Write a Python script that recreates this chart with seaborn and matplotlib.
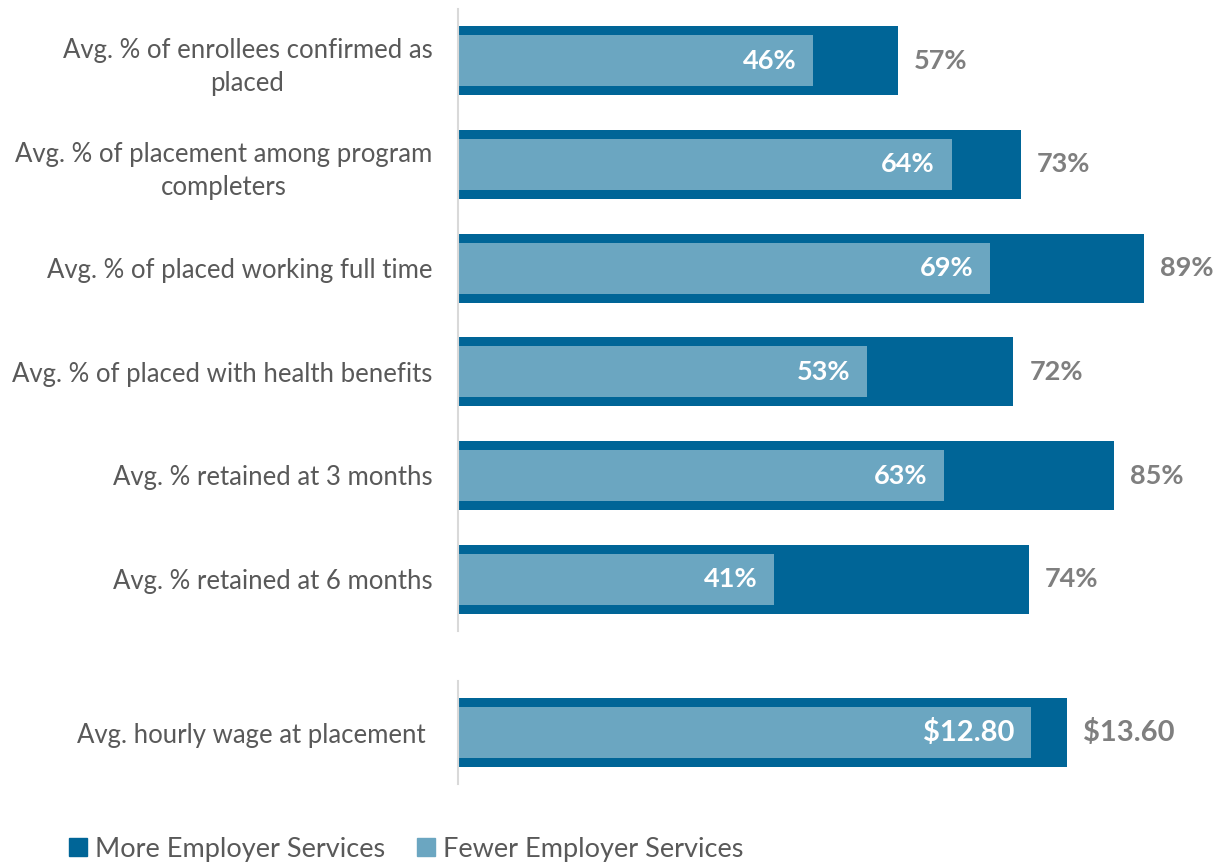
import matplotlib
matplotlib.use("Agg")
import matplotlib.pyplot as plt
from matplotlib.patches import Patch
import seaborn as sns
import pandas as pd

# data
categories = [
    "Avg. % of enrollees confirmed as\nplaced",
    "Avg. % of placement among program\ncompleters",
    "Avg. % of placed working full time",
    "Avg. % of placed with health benefits",
    "Avg. % retained at 3 months",
    "Avg. % retained at 6 months",
]
more_services = [57, 73, 89, 72, 85, 74]
fewer_services = [46, 64, 69, 53, 63, 41]

wage_category = ["Avg. hourly wage at placement"]
wage_more = [13.60]
wage_fewer = [12.80]

series_names = ["More Employer Services", "Fewer Employer Services"]

DARK = "#006597"
LIGHT = "#6BA6C1"
TXT = "#595959"
VAL = "#7F7F7F"

sns.set_style("white")
plt.rcParams["font.family"] = ["Lato", "DejaVu Sans"]

W, H = 1227, 863
fig = plt.figure(figsize=(W / 100, H / 100), dpi=100)

ax_pct = fig.add_axes([458 / W, (H - 631) / H, (W - 458) / W, 622 / H])
ax_wage = fig.add_axes([458 / W, (H - 784.4) / H, (W - 458) / W, 103.8 / H])

df = pd.DataFrame({"cat": categories, "more": more_services, "fewer": fewer_services})
dfw = pd.DataFrame({"cat": wage_category, "more": wage_more, "fewer": wage_fewer})


def draw(ax, data, xmax, fmt, fs, pad):
    sns.barplot(data=data, x="more", y="cat", color=DARK, width=0.665,
                saturation=1, linewidth=0, ax=ax)
    sns.barplot(data=data, x="fewer", y="cat", color=LIGHT, width=0.49,
                saturation=1, linewidth=0, ax=ax)
    ax.set_xlim(0, xmax)
    ax.set_xlabel("")
    ax.set_ylabel("")
    ax.set_xticks([])
    for s in ["top", "right", "bottom"]:
        ax.spines[s].set_visible(False)
    ax.spines["left"].set_color("#D9D9D9")
    ax.spines["left"].set_linewidth(1.5)
    ax.tick_params(axis="y", length=0, pad=pad, labelsize=18.5, labelcolor=TXT)
    for lab in ax.get_yticklabels():
        lab.set_multialignment("center")
        lab.set_linespacing(1.4)
    for i, (m, f) in enumerate(zip(data["more"], data["fewer"])):
        ax.annotate(fmt(m), (m, i), xytext=(11.5, 0), textcoords="offset points",
                    ha="left", va="center", fontsize=fs, fontweight="bold",
                    color=VAL)
        ax.annotate(fmt(f), (f, i), xytext=(-12, 0), textcoords="offset points",
                    ha="right", va="center", fontsize=fs, fontweight="bold",
                    color="white")


draw(ax_pct, df, 99.7, lambda v: f"{v:.0f}%", 19.5, 18.5)
draw(ax_wage, dfw, 17.17, lambda v: f"${v:.2f}", 21, 23)

handles = [Patch(color=DARK), Patch(color=LIGHT)]
fig.legend(handles, series_names, loc="center left",
           bbox_to_anchor=(69 / W, (H - 849) / H), ncol=2, frameon=False,
           fontsize=19.5, labelcolor=TXT, handlelength=0.65, handleheight=0.65,
           handletextpad=0.3, columnspacing=1.2, borderpad=0, borderaxespad=0)

fig.savefig("out.png", dpi=100)
